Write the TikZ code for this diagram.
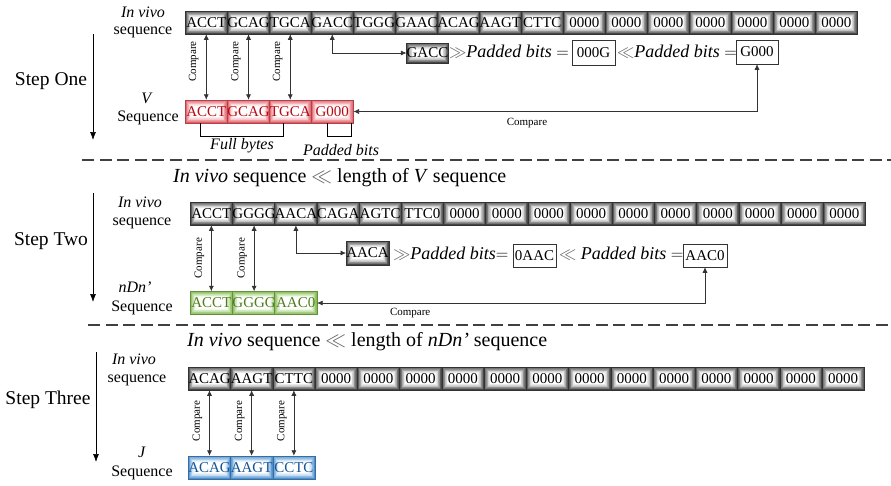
\documentclass[tikz,border=0pt]{standalone}
\usepackage{fontspec}
\setmainfont{Liberation Serif}
\usetikzlibrary{arrows.meta,calc}
\definecolor{gbase}{RGB}{70,70,70}
\definecolor{vred}{RGB}{228,90,100}
\definecolor{vredtxt}{RGB}{185,10,20}
\definecolor{ngreen}{RGB}{135,190,85}
\definecolor{ngreentxt}{RGB}{80,125,30}
\definecolor{jblue}{RGB}{75,145,210}
\definecolor{jbluetxt}{RGB}{20,85,150}
\begin{document}
\begin{tikzpicture}[x=1pt,y=-1pt,
  glow/.style={path picture={
    \foreach \k/\c in {0/100,0.7/88,1.4/74,2.1/60,2.8/46,3.5/33,4.2/22,4.9/12,5.6/5,6.3/0}
      \fill[#1!\c!white] ([shift={(\k pt,-\k pt)}]path picture bounding box.north west)
        rectangle ([shift={(-\k pt,\k pt)}]path picture bounding box.south east);}},
  cellbase/.style={minimum height=23pt, inner sep=0pt, anchor=west, line width=0.5pt,
    font=\fontsize{15}{15}\selectfont},
  gcell/.style={cellbase, glow=gbase, draw=black!80},
  rcell/.style={cellbase, minimum width=42pt, glow=vred, draw=vred!75!black, text=vredtxt},
  ncell/.style={cellbase, minimum width=42.2pt, glow=ngreen, draw=ngreen!75!black, text=ngreentxt},
  jcell/.style={cellbase, minimum width=42.25pt, glow=jblue, draw=jblue!75!black, text=jbluetxt},
  wbox/.style={draw=black!80, fill=white, inner sep=0pt, line width=0.5pt, font=\fontsize{15}{15}\selectfont},
  cmp/.style={{Latex[length=5.5pt,width=5pt]}-{Latex[length=5.5pt,width=5pt]}, line width=0.6pt, draw=black!80},
  cmplab/.style={rotate=90, font=\fontsize{11}{11}\selectfont, inner sep=0pt},
  hcmplab/.style={font=\fontsize{11}{11}\selectfont, inner sep=0pt},
  ptxt/.style={font=\fontsize{18}{18}\selectfont, inner sep=0pt},
  lab/.style={font=\fontsize{16}{16}\selectfont, inner sep=0pt},
  steptxt/.style={font=\fontsize{19.5}{20}\selectfont, inner sep=0pt},
  stepar/.style={-{Latex[length=8pt,width=6pt]}, line width=0.7pt},
  head/.style={font=\fontsize{20}{20}\selectfont, inner sep=0pt, anchor=west},
  dashline/.style={dash pattern=on 12pt off 5.5pt, line width=1.1pt, draw=black!75},
  brk/.style={line width=0.8pt}
]
\useasboundingbox (0,0) rectangle (891,485);
\newcommand{\gsym}{\textcolor{black!60}{$\gg$}}
\newcommand{\lsym}{\textcolor{black!60}{$\ll$}}

% ---------------- Step One ----------------
\foreach \t [count=\i] in {ACCT,GCAG,TGCA,GACC,TGGG,GAAC,ACAG,AAGT,CTTC,0000,0000,0000,0000,0000,0000,0000}
  \node[gcell, minimum width=42pt] (a\i) at ({185+(\i-1)*42},22.5) {\t};
\foreach \t [count=\i] in {ACCT,GCAG,TGCA,G000}
  \node[rcell] (v\i) at ({185+(\i-1)*42},111.5) {\t};
\foreach \i in {1,2,3} {
  \draw[cmp] (a\i.south) -- (v\i.north);
  \node[cmplab] at ($(a\i.south)!0.5!(v\i.north)+(-12.5,-5.5)$) {Compare};
}
\node[gcell, anchor=center, minimum width=40pt, minimum height=20pt] (gacc) at (427.5,53) {GACC};
\draw[cmp] (a4.south) |- (gacc.west);
\node[ptxt, anchor=west] (t1) at (449,52) {\gsym\textit{Padded bits} $=$};
\node[wbox, minimum width=43pt, minimum height=25pt] (b1) at (593.5,52.5) {000G};
\node[ptxt, anchor=west] (t2) at (617,52) {\lsym\textit{Padded bits} $=$};
\node[wbox, minimum width=42pt, minimum height=24pt] (b2) at (757,52) {G000};
\draw[cmp] (b2.south) |- node[pos=0.785, below=6pt, hcmplab] {Compare} (v4.east);
\draw[brk] (200,123) -- (200,136) -- (283,136) -- (283,123);
\node[lab] at (242,146) {\textit{Full bytes}};
\draw[brk] (327,123) -- (327,136) -- (351,136) -- (351,123);
\node[lab] at (341,150) {\textit{Padded bits}};
\node[lab] at (143,12) {\textit{In vivo}};
\node[lab] at (143,32) {sequence};
\node[lab] at (147,98) {\textit{V}};
\node[lab] at (148,118) {Sequence};
\node[steptxt] at (51,81) {Step One};
\draw[stepar] (93,34) -- (93,140);

\draw[dashline] (82,160) -- (891,160);

% ---------------- Step Two ----------------
\node[head] at (173,178) {\textit{In vivo} sequence \lsym{} length of \textit{V} sequence};
\foreach \t [count=\i] in {ACCT,GGGG,AACA,CAGA,AGTC,TTC0,0000,0000,0000,0000,0000,0000,0000,0000,0000,0000}
  \node[gcell, minimum width=42.2pt] (b\i) at ({190+(\i-1)*42.2},213.5) {\t};
\foreach \t [count=\i] in {ACCT,GGGG,AAC0}
  \node[ncell] (n\i) at ({190+(\i-1)*42.2},303) {\t};
\foreach \i in {1,2} {
  \draw[cmp] (b\i.south) -- (n\i.north);
  \node[cmplab] at ($(b\i.south)!0.5!(n\i.north)+(-12,0)$) {Compare};
}
\node[gcell, anchor=center, minimum width=41pt, minimum height=24pt] (aaca) at (367.5,253) {AACA};
\draw[cmp] (b3.south) |- (aaca.west);
\node[ptxt, anchor=west] (t3) at (393,254) {\gsym\textit{Padded bits}$=$};
\node[wbox, minimum width=43pt, minimum height=23pt] (b3box) at (534.5,255.5) {0AAC};
\node[ptxt, anchor=west] (t4) at (559,254) {\lsym\textit{ Padded bits} $=$};
\node[wbox, minimum width=44pt, minimum height=23pt] (b4box) at (705,255.5) {AAC0};
\draw[cmp] (b4box.south) |- node[pos=0.88, below=5pt, hcmplab] {Compare} (n3.east);
\node[lab] at (140,202) {\textit{In vivo}};
\node[lab] at (142,223) {sequence};
\node[lab] at (135,287) {\textit{nDn’}};
\node[lab] at (142,308) {Sequence};
\node[steptxt] at (51,241) {Step Two};
\draw[stepar] (93,193) -- (93,302);

\draw[dashline] (88,325) -- (891,325);

% ---------------- Step Three ----------------
\node[head] at (187,342) {\textit{In vivo} sequence \lsym{} length of \textit{nDn’} sequence};
\foreach \t [count=\i] in {ACAG,AAGT,CTTC,0000,0000,0000,0000,0000,0000,0000,0000,0000,0000,0000,0000,0000}
  \node[gcell, minimum width=42.25pt] (c\i) at ({188+(\i-1)*42.25},378.5) {\t};
\foreach \t [count=\i] in {ACAG,AAGT,CCTC}
  \node[jcell] (j\i) at ({188+(\i-1)*42.25},467.5) {\t};
\foreach \i in {1,2,3} {
  \draw[cmp] (c\i.south) -- (j\i.north);
  \node[cmplab] at ($(c\i.south)!0.5!(j\i.north)+(-12,-2)$) {Compare};
}
\node[lab] at (134,359) {\textit{In vivo}};
\node[lab] at (137,380) {sequence};
\node[lab] at (142,452) {\textit{J}};
\node[lab] at (142,473) {Sequence};
\node[steptxt] at (48,400) {Step Three};
\draw[stepar] (96,352) -- (96,462);
\end{tikzpicture}
\end{document}
